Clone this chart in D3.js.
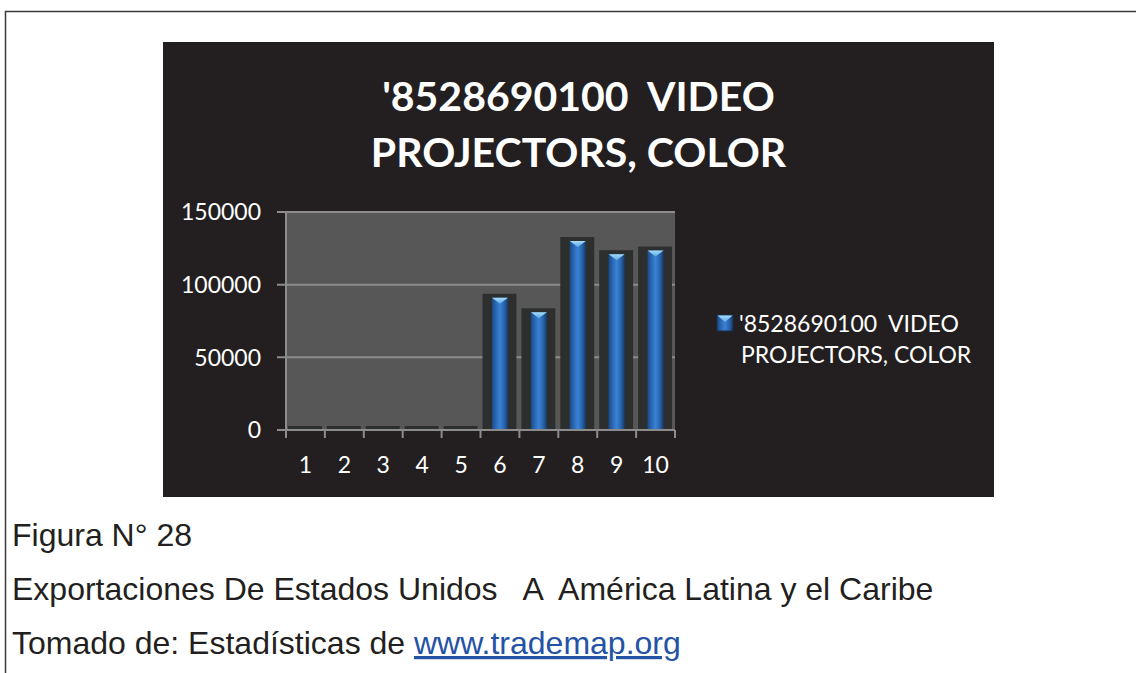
<!DOCTYPE html>
<html>
<head>
<meta charset="utf-8">
<script src="https://cdn.jsdelivr.net/npm/d3@7"></script>
<style>
  body { margin: 0; background: #fff; }
  svg { display: block; }
  text { white-space: pre; }
</style>
</head>
<body>
<div id="container"></div>
<script>
// chart data
var categories = ["1", "2", "3", "4", "5", "6", "7", "8", "9", "10"];
var values = [0, 0, 0, 0, 0, 91000, 81000, 130000, 121000, 123500];
var yTicks = [0, 50000, 100000, 150000];
var titleLines = ["'8528690100  VIDEO", "PROJECTORS, COLOR"];
var legendLines = ["'8528690100  VIDEO", "PROJECTORS, COLOR"];
var captionLines = ["Figura N° 28", "Exportaciones De Estados Unidos   A  América Latina y el Caribe"];
var sourceText = "Tomado de: Estadísticas de ";
var sourceLink = "www.trademap.org";

var W = 1136, H = 673;
var box = {x: 163, y: 42, w: 831, h: 455};
var plot = {left: 286, right: 675, top: 212, bottom: 430};

var svg = d3.select("#container").append("svg")
    .attr("width", W)
    .attr("height", H);

// page frame lines
svg.append("line")
    .attr("x1", 5).attr("x2", W).attr("y1", 11.5).attr("y2", 11.5)
    .style("stroke", "#3a3a3a").style("stroke-width", 1.5);
svg.append("line")
    .attr("x1", 5.5).attr("x2", 5.5).attr("y1", 11).attr("y2", H)
    .style("stroke", "#3a3a3a").style("stroke-width", 1.5);

var defs = svg.append("defs");
var grad = defs.append("linearGradient").attr("id", "barGrad")
    .attr("x1", "0%").attr("x2", "100%").attr("y1", "0%").attr("y2", "0%");
[["0%", "#1a4a86"], ["25%", "#2a68b4"], ["50%", "#3a82d4"], ["75%", "#2a66b0"], ["100%", "#163c6c"]]
  .forEach(function(s) { grad.append("stop").attr("offset", s[0]).attr("stop-color", s[1]); });
var bev = defs.append("linearGradient").attr("id", "bevGrad")
    .attr("x1", "0%").attr("x2", "0%").attr("y1", "0%").attr("y2", "100%");
bev.append("stop").attr("offset", "0%").attr("stop-color", "#a6dcf8");
bev.append("stop").attr("offset", "100%").attr("stop-color", "#5ca9e6");

// chart background
svg.append("rect")
    .attr("x", box.x).attr("y", box.y)
    .attr("width", box.w).attr("height", box.h)
    .style("fill", "#231f20");

// title
svg.append("g").selectAll("text")
    .data(titleLines)
  .enter().append("text")
    .attr("x", box.x + box.w / 2)
    .attr("y", function(d, i) { return 111 + i * 56; })
    .attr("text-anchor", "middle")
    .style("font-family", "Lato, 'Open Sans', sans-serif")
    .style("font-weight", "bold")
    .style("font-size", "41px")
    .style("fill", "#ffffff")
    .text(function(d) { return d; });

var x = d3.scaleBand()
    .domain(categories)
    .range([plot.left, plot.right])
    .padding(0);

var y = d3.scaleLinear()
    .domain([0, 150000])
    .range([plot.bottom, plot.top]);

// plot area
svg.append("rect")
    .attr("x", plot.left).attr("y", plot.top)
    .attr("width", plot.right - plot.left).attr("height", plot.bottom - plot.top)
    .style("fill", "#575757");

// gridlines
svg.append("g").selectAll("line")
    .data(yTicks)
  .enter().append("line")
    .attr("x1", plot.left - 9).attr("x2", plot.right)
    .attr("y1", function(d) { return y(d); })
    .attr("y2", function(d) { return y(d); })
    .style("stroke", "#8c8c8c")
    .style("stroke-width", 2);

// y labels
svg.append("g").selectAll("text")
    .data(yTicks)
  .enter().append("text")
    .attr("x", 261)
    .attr("y", function(d) { return y(d); })
    .attr("dy", "0.36em")
    .attr("text-anchor", "end")
    .style("font-family", "Lato, 'Open Sans', sans-serif")
    .style("font-size", "23px")
    .style("fill", "#ffffff")
    .text(function(d) { return d; });

var bw = x.bandwidth();

// bar shadows
svg.append("g").selectAll("rect")
    .data(values)
  .enter().append("rect")
    .attr("x", function(d, i) { return x(categories[i]) + 2; })
    .attr("y", function(d) { return y(d) - 4; })
    .attr("width", bw - 5)
    .attr("height", function(d) { return plot.bottom - y(d) + 4; })
    .style("fill", "#2d2f2f");

// bars
var bars = svg.append("g").selectAll("g")
    .data(values.map(function(d, i) { return {v: d, c: categories[i]}; })
      .filter(function(d) { return d.v > 0; }))
  .enter().append("g");

bars.append("rect")
    .attr("x", function(d) { return x(d.c) + bw / 2 - 8; })
    .attr("y", function(d) { return y(d.v); })
    .attr("width", 16)
    .attr("height", function(d) { return plot.bottom - y(d.v); })
    .style("fill", "url(#barGrad)");

bars.append("path")
    .attr("d", function(d) {
      var cx = x(d.c) + bw / 2, t = y(d.v);
      return "M" + (cx - 8) + "," + t + "L" + (cx + 8) + "," + t + "L" + cx + "," + (t + 6) + "Z";
    })
    .style("fill", "url(#bevGrad)");

// axes lines
svg.append("line")
    .attr("x1", plot.left).attr("x2", plot.left)
    .attr("y1", plot.top).attr("y2", plot.bottom + 8)
    .style("stroke", "#8c8c8c").style("stroke-width", 2);
svg.append("line")
    .attr("x1", plot.left).attr("x2", plot.right)
    .attr("y1", plot.bottom).attr("y2", plot.bottom)
    .style("stroke", "#8c8c8c").style("stroke-width", 2);

// x ticks at category edges
var edges = categories.map(function(c) { return x(c); }).concat([plot.right]);
svg.append("g").selectAll("line")
    .data(edges)
  .enter().append("line")
    .attr("x1", function(d) { return d; }).attr("x2", function(d) { return d; })
    .attr("y1", plot.bottom).attr("y2", plot.bottom + 8)
    .style("stroke", "#8c8c8c").style("stroke-width", 2);

// x labels
svg.append("g").selectAll("text")
    .data(categories)
  .enter().append("text")
    .attr("x", function(d) { return x(d) + bw / 2; })
    .attr("y", 473)
    .attr("text-anchor", "middle")
    .style("font-family", "Lato, 'Open Sans', sans-serif")
    .style("font-size", "23px")
    .style("fill", "#ffffff")
    .text(function(d) { return d; });

// legend
var legend = svg.append("g").attr("class", "legend");
legend.append("rect")
    .attr("x", 717).attr("y", 315)
    .attr("width", 16).attr("height", 16)
    .style("fill", "url(#barGrad)")
    .style("stroke", "#1a2f4a").style("stroke-width", 1);
legend.append("path")
    .attr("d", "M717.5,315.5L732.5,315.5L725,322Z")
    .style("fill", "url(#bevGrad)");
legend.selectAll("text")
    .data(legendLines)
  .enter().append("text")
    .attr("x", function(d, i) { return i === 0 ? 739 : 741; })
    .attr("y", function(d, i) { return 332 + i * 31; })
    .style("font-family", "Lato, 'Open Sans', sans-serif")
    .style("font-size", "23px")
    .style("fill", "#ffffff")
    .text(function(d) { return d; });

// caption under the chart
svg.append("g").selectAll("text")
    .data(captionLines)
  .enter().append("text")
    .attr("x", 12)
    .attr("y", function(d, i) { return 546 + i * 54; })
    .style("font-family", "'Liberation Sans', Arial, sans-serif")
    .style("font-size", "32px")
    .style("fill", "#231f20")
    .text(function(d) { return d; });

var src = svg.append("text")
    .attr("x", 12)
    .attr("y", 654)
    .style("font-family", "'Liberation Sans', Arial, sans-serif")
    .style("font-size", "32px")
    .style("fill", "#231f20");
src.append("tspan").text(sourceText);
src.append("tspan")
    .style("fill", "#2452a4")
    .style("text-decoration", "underline")
    .text(sourceLink);
</script>
</body>
</html>
